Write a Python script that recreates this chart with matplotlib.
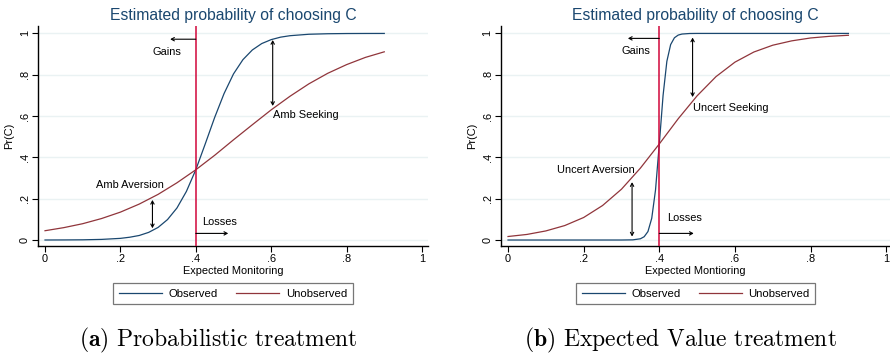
import matplotlib
matplotlib.use("Agg")
from matplotlib import pyplot as plt

plt.rcParams['font.family'] = ['Liberation Sans', 'DejaVu Sans']
plt.rcParams['mathtext.fontset'] = 'cm'

# Panel (a): probabilistic treatment
x_obs_a = [0.0, 0.05, 0.10, 0.15, 0.20, 0.225, 0.25, 0.275, 0.30, 0.325, 0.35, 0.375,
           0.40, 0.425, 0.45, 0.475, 0.50, 0.525, 0.55, 0.575, 0.60, 0.625, 0.65,
           0.70, 0.75, 0.80, 0.85, 0.90]
y_obs_a = [0.0001, 0.0004, 0.001, 0.003, 0.008, 0.0136, 0.022, 0.037, 0.061, 0.099, 0.155, 0.235,
           0.34, 0.465, 0.593, 0.709, 0.804, 0.873, 0.92, 0.951, 0.970, 0.982, 0.989,
           0.996, 0.9985, 0.9995, 0.9998, 0.9999]
x_unobs_a = [0.0, 0.05, 0.10, 0.15, 0.20, 0.25, 0.30, 0.35, 0.40, 0.45, 0.50, 0.55,
             0.60, 0.65, 0.70, 0.75, 0.80, 0.85, 0.90]
y_unobs_a = [0.045, 0.060, 0.079, 0.104, 0.135, 0.174, 0.221, 0.277, 0.34, 0.41, 0.485, 0.558,
             0.63, 0.696, 0.756, 0.807, 0.849, 0.884, 0.911]

# Panel (b): expected value treatment
x_obs_b = [0.0, 0.10, 0.20, 0.30, 0.33, 0.35, 0.36, 0.37, 0.38, 0.39, 0.40, 0.41,
           0.42, 0.43, 0.44, 0.45, 0.46, 0.48, 0.50, 0.60, 0.70, 0.80, 0.90]
y_obs_b = [0.0, 0.0, 0.0, 0.00004, 0.0008, 0.006, 0.016, 0.041, 0.105, 0.242, 0.465, 0.70,
           0.865, 0.946, 0.979, 0.992, 0.997, 0.9996, 1.0, 1.0, 1.0, 1.0, 1.0]
x_unobs_b = [0.0, 0.05, 0.10, 0.15, 0.20, 0.25, 0.30, 0.35, 0.40, 0.45, 0.50, 0.55,
             0.60, 0.65, 0.70, 0.75, 0.80, 0.85, 0.90]
y_unobs_b = [0.017, 0.027, 0.044, 0.070, 0.109, 0.167, 0.246, 0.348, 0.465, 0.587, 0.698, 0.791,
             0.861, 0.910, 0.943, 0.964, 0.978, 0.986, 0.991]

xticks = [0, 0.2, 0.4, 0.6, 0.8, 1]
tick_labels = ['0', '.2', '.4', '.6', '.8', '1']

blue = '#1a476f'
maroon = '#90353b'
redline = '#d1063a'

fig = plt.figure(figsize=(8.9, 3.57), dpi=100)
ax_a = fig.add_axes([0.0427, 0.3109, 0.4382, 0.6163])
ax_b = fig.add_axes([0.5629, 0.3109, 0.4371, 0.6163])


def base(ax, xlabel, xr):
    ax.set_xlim(-0.0186, xr)
    ax.set_ylim(-0.029, 1.036)
    ax.set_xticks(xticks)
    ax.set_xticklabels(tick_labels)
    ax.set_yticks(xticks)
    ax.set_yticklabels(tick_labels, rotation=90, va='center')
    ax.tick_params(labelsize=7.9, length=4, width=0.8, pad=2)
    for s in ['top', 'right']:
        ax.spines[s].set_visible(False)
    for s in ['left', 'bottom']:
        ax.spines[s].set_linewidth(1.0)
    ax.grid(axis='y', color='#eaf2f3', linewidth=1.0)
    ax.set_axisbelow(True)
    ax.set_xlabel(xlabel, fontsize=7.9, labelpad=1)
    ax.set_ylabel('Pr(C)', fontsize=7.9, labelpad=4)
    ax.set_title('Estimated probability of choosing C', color=blue, fontsize=11.3, pad=4)
    ax.axvline(0.4, color=redline, linewidth=1.1, zorder=3)


head = '->,head_length=0.22,head_width=0.12'
head2 = '<->,head_length=0.22,head_width=0.12'


def harrow(ax, x0, x1, y):
    ax.annotate('', xy=(x1, y), xytext=(x0, y),
                arrowprops=dict(arrowstyle=head, color='black', lw=0.8, shrinkA=0, shrinkB=0))


def varrow(ax, x, y0, y1):
    ax.annotate('', xy=(x, y1), xytext=(x, y0),
                arrowprops=dict(arrowstyle=head2, color='black', lw=0.8, shrinkA=0, shrinkB=0))


# (a)
base(ax_a, 'Expected Monitoring', 1.016)
ax_a.plot(x_obs_a, y_obs_a, color=blue, lw=0.9, label='Observed')
ax_a.plot(x_unobs_a, y_unobs_a, color=maroon, lw=0.9, label='Unobserved')
harrow(ax_a, 0.4, 0.332, 0.972)
ax_a.text(0.324, 0.91, 'Gains', fontsize=7.9, ha='center', va='center')
varrow(ax_a, 0.604, 0.968, 0.649)
ax_a.text(0.605, 0.605, 'Amb Seeking', fontsize=7.9, ha='left', va='center')
varrow(ax_a, 0.285, 0.194, 0.057)
ax_a.text(0.226, 0.266, 'Amb Aversion', fontsize=7.9, ha='center', va='center')
harrow(ax_a, 0.4, 0.486, 0.032)
ax_a.text(0.416, 0.089, 'Losses', fontsize=7.9, ha='left', va='center')

# (b)
base(ax_b, 'Expected Montioring', 1.01)
ax_b.plot(x_obs_b, y_obs_b, color=blue, lw=0.9, label='Observed')
ax_b.plot(x_unobs_b, y_unobs_b, color=maroon, lw=0.9, label='Unobserved')
harrow(ax_b, 0.4, 0.317, 0.976)
ax_b.text(0.337, 0.916, 'Gains', fontsize=7.9, ha='center', va='center')
varrow(ax_b, 0.488, 0.98, 0.692)
ax_b.text(0.49, 0.64, 'Uncert Seeking', fontsize=7.9, ha='left', va='center')
varrow(ax_b, 0.328, 0.28, 0.017)
ax_b.text(0.231, 0.341, 'Uncert Aversion', fontsize=7.9, ha='center', va='center')
harrow(ax_b, 0.4, 0.491, 0.032)
ax_b.text(0.42, 0.105, 'Losses', fontsize=7.9, ha='left', va='center')

for ax in (ax_a, ax_b):
    leg = ax.legend(loc='upper center', bbox_to_anchor=(0.5, -0.168), ncol=2, fontsize=8.2,
                    frameon=True, fancybox=False, edgecolor='#555555', handlelength=3.8,
                    columnspacing=1.6, borderpad=0.5, handletextpad=0.55, borderaxespad=0)
    leg.get_frame().set_linewidth(0.9)

fig.text(0.245, 0.045, r'$\mathbf{(a)}$ Probabilistic treatment', family='cmr10',
         fontsize=17, ha='center', va='center')
fig.text(0.764, 0.045, r'$\mathbf{(b)}$ Expected Value treatment', family='cmr10',
         fontsize=17, ha='center', va='center')

fig.savefig('out.png', dpi=100)
